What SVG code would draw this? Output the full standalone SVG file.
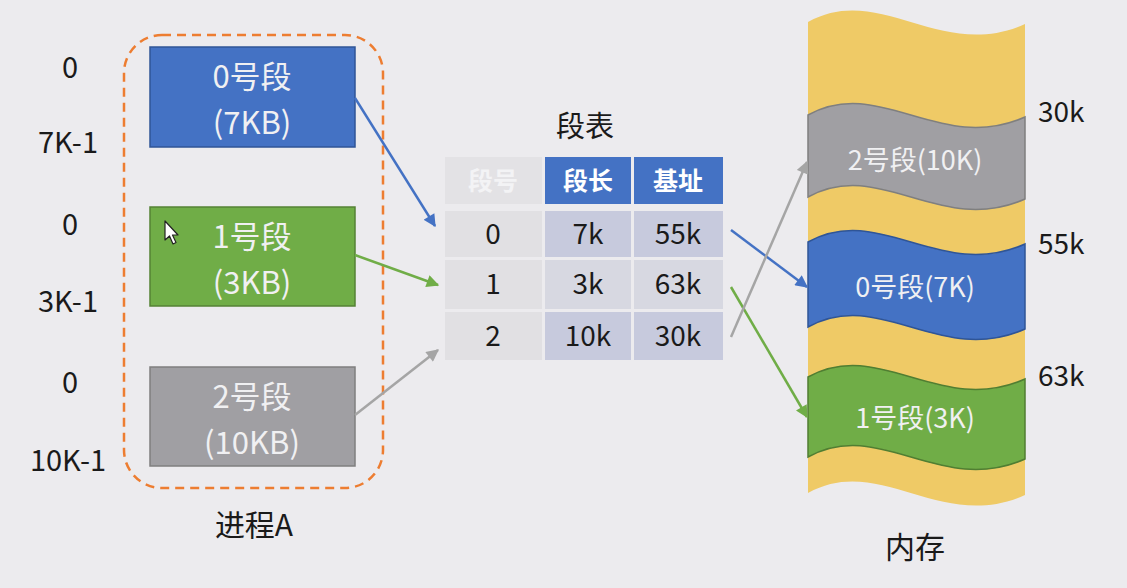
<svg xmlns="http://www.w3.org/2000/svg" width="1127" height="588" viewBox="0 0 1127 588">
<style>
text{font-family:"Noto Sans CJK SC","Noto Sans",sans-serif;}
.lbl{font-size:29px;fill:#1a1a1a;text-anchor:middle;}
.box{font-size:31px;fill:#f0f0f2;text-anchor:middle;}
.mem{font-size:27px;fill:#f0f0f2;text-anchor:middle;}
.cell{font-size:28px;fill:#1a1a1a;text-anchor:middle;}
.hdr{font-size:25px;fill:#ffffff;text-anchor:middle;font-weight:bold;}
.conn{fill:none;stroke-width:2.5;}
</style>
<defs>
<marker id="ab" viewBox="0 0 10 10" refX="9" refY="5" markerWidth="5.5" markerHeight="5" orient="auto" markerUnits="strokeWidth"><path d="M0,0 L10,5 L0,10 z" fill="#4472C4"/></marker>
<marker id="ag" viewBox="0 0 10 10" refX="9" refY="5" markerWidth="5.5" markerHeight="5" orient="auto" markerUnits="strokeWidth"><path d="M0,0 L10,5 L0,10 z" fill="#70AD47"/></marker>
<marker id="ay" viewBox="0 0 10 10" refX="9" refY="5" markerWidth="5.5" markerHeight="5" orient="auto" markerUnits="strokeWidth"><path d="M0,0 L10,5 L0,10 z" fill="#A5A5A5"/></marker>
</defs>
<rect width="1127" height="588" fill="#ECEBEE"/>

<g id="addr-labels">
<text class="lbl" x="70" y="78">0</text>
<text class="lbl" x="68" y="153">7K-1</text>
<text class="lbl" x="70" y="235">0</text>
<text class="lbl" x="68" y="312">3K-1</text>
<text class="lbl" x="70" y="393">0</text>
<text class="lbl" x="68" y="471">10K-1</text>
</g>

<g id="process-a">
<rect x="124" y="35" width="259" height="453" rx="38" fill="none" stroke="#ED7D31" stroke-width="2.5" stroke-dasharray="9 6"/>
<text class="lbl" x="254" y="536" style="font-size:30px">进程A</text>
</g>

<g id="seg0">
<rect x="150" y="47" width="205" height="100" fill="#4472C4" stroke="#2F5597" stroke-width="1.5"/>
<text class="box" x="252" y="88">0号段</text>
<text class="box" x="252" y="134">(7KB)</text>
</g>
<g id="seg1">
<rect x="150" y="207" width="205" height="99" fill="#70AD47" stroke="#548235" stroke-width="1.5"/>
<text class="box" x="252" y="248">1号段</text>
<text class="box" x="252" y="294">(3KB)</text>
</g>
<g id="seg2">
<rect x="150" y="367" width="205" height="99" fill="#A09FA3" stroke="#7F7F7F" stroke-width="1.5"/>
<text class="box" x="252" y="408">2号段</text>
<text class="box" x="252" y="454">(10KB)</text>
</g>

<g id="cursor">
<path d="M165,221 L165,240 L169.5,236 L173,244 L176,242.5 L172.5,235 L178,235 Z" fill="#ffffff" stroke="#222" stroke-width="1.2" stroke-linejoin="round"/>
</g>

<g id="seg-table">
<text class="lbl" x="585" y="137" style="font-size:29px">段表</text>
<rect x="445" y="157" width="97" height="47" fill="#E3E2E5"/>
<rect x="545" y="157" width="86" height="47" fill="#4472C4"/>
<rect x="634" y="157" width="89" height="47" fill="#4472C4"/>
<text class="hdr" x="493" y="190" style="fill:#F3F3F5">段号</text>
<text class="hdr" x="588" y="190">段长</text>
<text class="hdr" x="678" y="190">基址</text>
<rect x="445" y="211" width="97" height="46" fill="#E1E0E3"/>
<rect x="545" y="211" width="86" height="46" fill="#C7CADD"/>
<rect x="634" y="211" width="89" height="46" fill="#C7CADD"/>
<rect x="445" y="260" width="97" height="49" fill="#E1E0E3"/>
<rect x="545" y="260" width="86" height="49" fill="#D7D8E1"/>
<rect x="634" y="260" width="89" height="49" fill="#D7D8E1"/>
<rect x="445" y="312" width="97" height="48" fill="#E1E0E3"/>
<rect x="545" y="312" width="86" height="48" fill="#C7CADD"/>
<rect x="634" y="312" width="89" height="48" fill="#C7CADD"/>
<text class="cell" x="493" y="244">0</text>
<text class="cell" x="588" y="244">7k</text>
<text class="cell" x="678" y="244">55k</text>
<text class="cell" x="493" y="294">1</text>
<text class="cell" x="588" y="294">3k</text>
<text class="cell" x="678" y="294">63k</text>
<text class="cell" x="493" y="346">2</text>
<text class="cell" x="588" y="346">10k</text>
<text class="cell" x="678" y="346">30k</text>
</g>

<g id="memory">
<path d="M808,22 C880,-18 940,62 1025,24 L1025,495 C940,533 880,453 808,493 Z" fill="#EFCA66"/>
<path d="M808,115 C880,75 940,155 1025,117 L1025,199 C940,237 880,157 808,197 Z" fill="#A09FA3" stroke="#7F7F7F" stroke-width="1.5"/>
<path d="M808,242 C880,202 940,282 1025,244 L1025,329 C940,367 880,287 808,327 Z" fill="#4472C4" stroke="#2F5597" stroke-width="1.5"/>
<path d="M808,377 C880,337 940,417 1025,379 L1025,459 C940,497 880,417 808,457 Z" fill="#70AD47" stroke="#507E32" stroke-width="1.5"/>
<text class="mem" x="915" y="170">2号段(10K)</text>
<text class="mem" x="915" y="297">0号段(7K)</text>
<text class="mem" x="915" y="428">1号段(3K)</text>
<text class="lbl" x="885" y="558" style="text-anchor:start;font-size:30px">内存</text>
</g>

<g id="mem-labels">
<text class="lbl" x="1038" y="122" style="text-anchor:start;font-size:28px">30k</text>
<text class="lbl" x="1038" y="254" style="text-anchor:start;font-size:28px">55k</text>
<text class="lbl" x="1038" y="386" style="text-anchor:start;font-size:28px">63k</text>
</g>

<g id="connectors">
<line class="conn" x1="355" y1="98" x2="435" y2="226" stroke="#4472C4" marker-end="url(#ab)"/>
<line class="conn" x1="355" y1="255" x2="438" y2="285" stroke="#70AD47" marker-end="url(#ag)"/>
<line class="conn" x1="355" y1="415" x2="438" y2="350" stroke="#A5A5A5" marker-end="url(#ay)"/>
<line class="conn" x1="731" y1="230" x2="807" y2="287" stroke="#4472C4" marker-end="url(#ab)"/>
<line class="conn" x1="731" y1="287" x2="807" y2="417" stroke="#70AD47" marker-end="url(#ag)"/>
<line class="conn" x1="731" y1="337" x2="807" y2="162" stroke="#A5A5A5" marker-end="url(#ay)"/>
</g>
</svg>
